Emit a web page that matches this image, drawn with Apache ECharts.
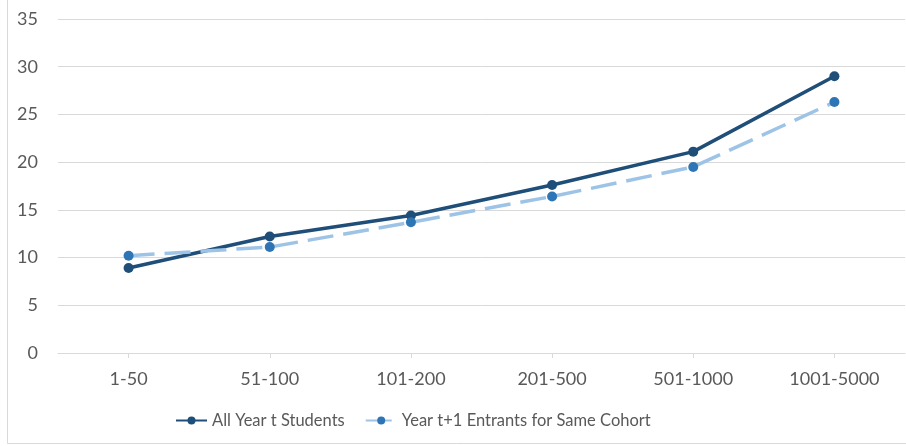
<!DOCTYPE html>
<html>
<head>
<meta charset="utf-8">
<script src="https://cdn.jsdelivr.net/npm/echarts@6/dist/echarts.min.js"></script>
<style>
  html, body { margin: 0; padding: 0; background: #fff; }
  #chart { width: 906px; height: 446px; }
</style>
</head>
<body>
<div id="chart"></div>
<script>
// Size bands on the category axis
const categories = ['1-50', '51-100', '101-200', '201-500', '501-1000', '1001-5000'];
// Series values
const allStudents = [8.9, 12.2, 14.4, 17.6, 21.1, 29.0];
const nextEntrants = [10.2, 11.1, 13.7, 16.4, 19.5, 26.3];
const seriesNames = ['All Year t Students', 'Year t+1 Entrants for Same Cohort'];

const FONT = 'Lato, "Open Sans", sans-serif';
const chart = echarts.init(document.getElementById('chart'), null, { renderer: 'canvas' });

chart.setOption({
  animation: false,
  backgroundColor: '#ffffff',
  textStyle: { fontFamily: FONT },
  grid: { left: 58, right: 1, top: 19, bottom: 93, containLabel: false },
  legend: {
    top: 407,
    left: 170,
    itemWidth: 31,
    itemHeight: 10,
    itemGap: 20,
    textStyle: { fontFamily: FONT, fontSize: 16.5, color: '#595959' },
    data: seriesNames
  },
  xAxis: {
    type: 'category',
    data: categories,
    boundaryGap: true,
    axisLine: { show: true, lineStyle: { color: '#d9d9d9', width: 1 } },
    axisTick: { show: true, alignWithLabel: true, length: 5, lineStyle: { color: '#d9d9d9' } },
    axisLabel: { fontFamily: FONT, fontSize: 18, color: '#595959', margin: 17 }
  },
  yAxis: {
    type: 'value',
    min: 0,
    max: 35,
    interval: 5,
    axisLine: { show: false },
    axisTick: { show: false },
    splitLine: { lineStyle: { color: '#d9d9d9', width: 1 } },
    axisLabel: { fontFamily: FONT, fontSize: 18, color: '#595959', margin: 20 }
  },
  series: [
    {
      name: seriesNames[0],
      type: 'line',
      data: allStudents,
      symbol: 'circle',
      symbolSize: 10,
      lineStyle: { color: '#1f4e79', width: 3.5 },
      itemStyle: { color: '#1f4e79' }
    },
    {
      name: seriesNames[1],
      type: 'line',
      data: nextEntrants,
      symbol: 'circle',
      symbolSize: 10,
      lineStyle: { color: '#9dc3e6', width: 3.5, type: [26, 10] },
      itemStyle: { color: '#2e75b6' }
    }
  ],
  graphic: [
    { type: 'line', shape: { x1: 7.5, y1: 0, x2: 7.5, y2: 443.5 }, style: { stroke: '#d9d9d9', lineWidth: 1 } },
    { type: 'line', shape: { x1: 7.5, y1: 443.5, x2: 906, y2: 443.5 }, style: { stroke: '#d9d9d9', lineWidth: 1 } }
  ]
});
</script>
</body>
</html>
